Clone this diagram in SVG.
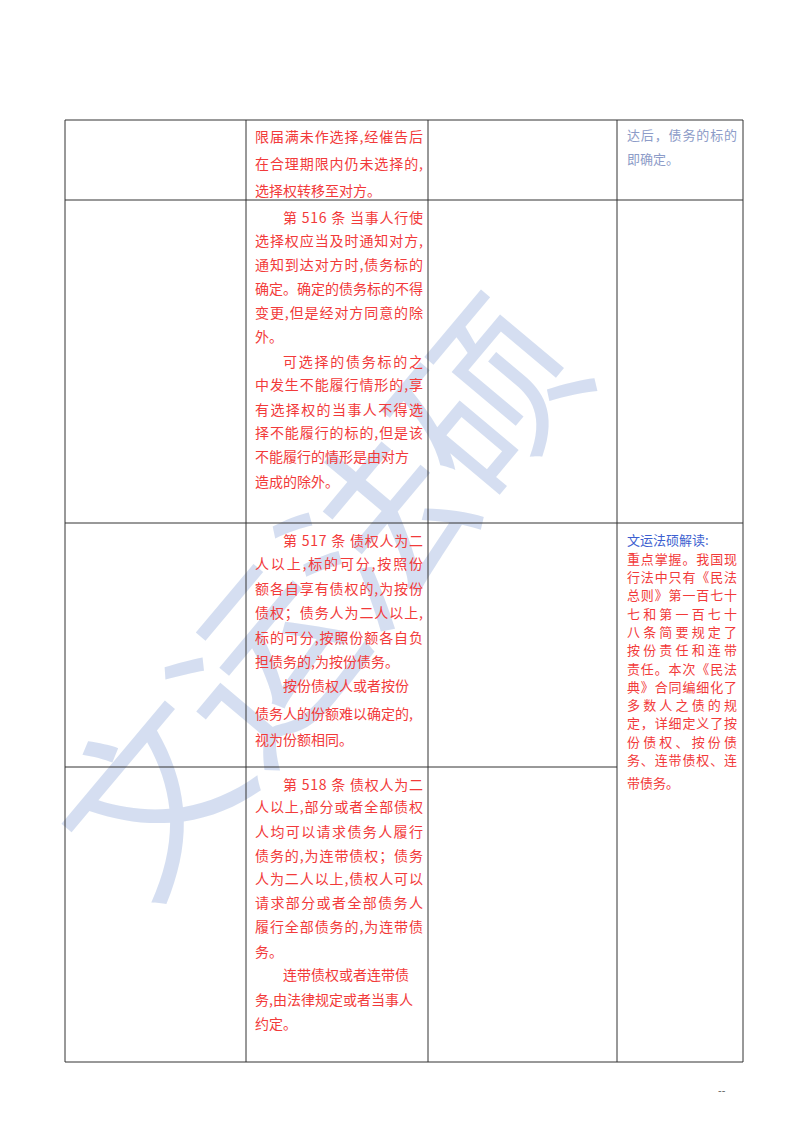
<svg xmlns="http://www.w3.org/2000/svg" width="800" height="1132" viewBox="0 0 800 1132">
<style>
.t{font-family:"Noto Sans CJK SC","Liberation Serif",serif;font-size:14px;fill:#f23a3a}
.r{font-family:"Noto Sans CJK SC","Liberation Serif",serif;font-size:13px;fill:#f23a3a}
.b{fill:#3d5fd0}
.g{fill:#8d9cc8}
.ln{stroke:#333;stroke-width:1;fill:none}
</style>
<rect width="800" height="1132" fill="#fff"/>
<g id="watermark">
<text x="370" y="640" text-anchor="middle" transform="rotate(-50 370 640)" font-family="Noto Sans CJK SC,sans-serif" font-size="178" fill="#5a80c8" opacity="0.25" letter-spacing="-4">文运法硕</text>
</g>
<g id="connectors">
<line class="ln" x1="65" y1="120" x2="743" y2="120" stroke-width="2"/>
<line class="ln" x1="65" y1="200" x2="743" y2="200"/>
<line class="ln" x1="65" y1="523" x2="743" y2="523"/>
<line class="ln" x1="65" y1="767" x2="617" y2="767"/>
<line class="ln" x1="65" y1="1062" x2="743" y2="1062"/>
<line class="ln" x1="65" y1="120" x2="65" y2="1062"/>
<line class="ln" x1="246" y1="120" x2="246" y2="1062"/>
<line class="ln" x1="428" y1="120" x2="428" y2="1062"/>
<line class="ln" x1="617" y1="120" x2="617" y2="1062"/>
<line class="ln" x1="743" y1="120" x2="743" y2="1062"/>
</g>
<g id="row1">
<text class="t" x="255" y="142" textLength="168">限届满未作选择,经催告后</text>
<text class="t" x="255" y="169" textLength="168">在合理期限内仍未选择的,</text>
<text class="t" x="255" y="196">选择权转移至对方。</text>
<text class="r g" x="627" y="140" textLength="110">达后，债务的标的</text>
<text class="r g" x="627" y="164">即确定。</text>
</g>
<g id="row2">
<text class="t" x="283" y="223" textLength="140">第 516 条 当事人行使</text>
<text class="t" x="255" y="246" textLength="168">选择权应当及时通知对方,</text>
<text class="t" x="255" y="270" textLength="168">通知到达对方时,债务标的</text>
<text class="t" x="255" y="294" textLength="168">确定。确定的债务标的不得</text>
<text class="t" x="255" y="318" textLength="168">变更,但是经对方同意的除</text>
<text class="t" x="255" y="342">外。</text>
<text class="t" x="283" y="367" textLength="140">可选择的债务标的之</text>
<text class="t" x="255" y="390" textLength="168">中发生不能履行情形的,享</text>
<text class="t" x="255" y="415" textLength="168">有选择权的当事人不得选</text>
<text class="t" x="255" y="438" textLength="168">择不能履行的标的,但是该</text>
<text class="t" x="255" y="462">不能履行的情形是由对方</text>
<text class="t" x="255" y="487">造成的除外。</text>
</g>
<g id="row3">
<text class="t" x="283" y="546" textLength="140">第 517 条 债权人为二</text>
<text class="t" x="255" y="569" textLength="168">人以上,标的可分,按照份</text>
<text class="t" x="255" y="594" textLength="168">额各自享有债权的,为按份</text>
<text class="t" x="255" y="618" textLength="168">债权；债务人为二人以上,</text>
<text class="t" x="255" y="643" textLength="168">标的可分,按照份额各自负</text>
<text class="t" x="255" y="667">担债务的,为按份债务。</text>
<text class="t" x="283" y="691">按份债权人或者按份</text>
<text class="t" x="255" y="719">债务人的份额难以确定的,</text>
<text class="t" x="255" y="745">视为份额相同。</text>
</g>
<g id="row4">
<text class="t" x="283" y="790" textLength="140">第 518 条 债权人为二</text>
<text class="t" x="255" y="812" textLength="168">人以上,部分或者全部债权</text>
<text class="t" x="255" y="837" textLength="168">人均可以请求债务人履行</text>
<text class="t" x="255" y="861" textLength="168">债务的,为连带债权；债务</text>
<text class="t" x="255" y="884" textLength="168">人为二人以上,债权人可以</text>
<text class="t" x="255" y="908" textLength="168">请求部分或者全部债务人</text>
<text class="t" x="255" y="932" textLength="168">履行全部债务的,为连带债</text>
<text class="t" x="255" y="957">务。</text>
<text class="t" x="283" y="980">连带债权或者连带债</text>
<text class="t" x="255" y="1005">务,由法律规定或者当事人</text>
<text class="t" x="255" y="1029">约定。</text>
</g>
<g id="commentary">
<text class="r b" x="627" y="545">文运法硕解读:</text>
<text class="r" x="627" y="564" textLength="110">重点掌握。我国现</text>
<text class="r" x="627" y="582" textLength="110">行法中只有《民法</text>
<text class="r" x="627" y="600" textLength="110">总则》第一百七十</text>
<text class="r" x="627" y="619" textLength="110">七和第一百七十</text>
<text class="r" x="627" y="637" textLength="110">八条简要规定了</text>
<text class="r" x="627" y="655" textLength="110">按份责任和连带</text>
<text class="r" x="627" y="674" textLength="110">责任。本次《民法</text>
<text class="r" x="627" y="692" textLength="110">典》合同编细化了</text>
<text class="r" x="627" y="710" textLength="110">多数人之债的规</text>
<text class="r" x="627" y="728" textLength="110">定，详细定义了按</text>
<text class="r" x="627" y="747" textLength="110">份债权、按份债</text>
<text class="r" x="627" y="765" textLength="110">务、连带债权、连</text>
<text class="r" x="627" y="788">带债务。</text>
</g>
<text x="718" y="1094" font-family="Liberation Sans,sans-serif" font-size="11" fill="#666">--</text>
</svg>
